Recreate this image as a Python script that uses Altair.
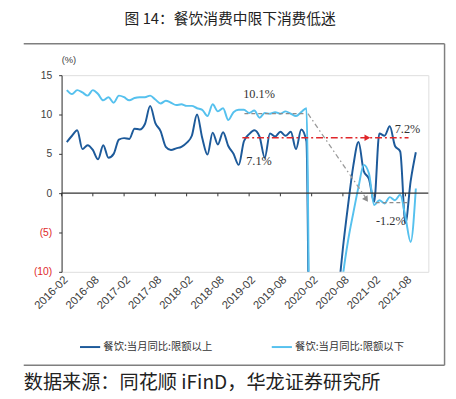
import altair as alt
import pandas as pd

# ---------------- data ----------------
months = [f"{y}-{m:02d}" for y in range(2016, 2022) for m in range(1, 13)]
months = months[months.index("2016-03"): months.index("2021-10") + 1]

above = [6.5, 7.3, 8.0, 5.6, 6.1, 5.5, 4.3, 6.1, 4.5, 5.0,
         6.8, 7.0, 6.9, 8.2, 8.1, 8.8, 11.1, 8.9, 7.9, 5.9,
         5.5, 5.7, 5.9, 6.4, 7.3, 10.0, 7.0, 4.9, 7.7, 6.2,
         7.75, 6.0, 5.0, 3.6, 6.6, 7.5, 8.0, 7.2, 4.5, 7.6,
         7.2, 7.8, 7.3, 7.8, 5.6, 8.1, 6.6, -50.0, -46.0, -35.0,
         -25.0, -19.0, -13.5, -7.0, -1.5, 3.5, 6.5, 2.8, 1.8, -1.1,
         7.6, 7.3, 8.5, 6.0, 5.3, -3.8, 1.5, 5.2]

below = [13.1, 12.6, 13.1, 12.8, 12.4, 13.1, 12.6, 11.8, 12.2, 11.5,
         12.4, 12.2, 11.8, 12.1, 12.2, 12.2, 12.4, 11.9, 11.4, 11.75,
         11.5, 11.2, 11.3, 11.1, 11.1, 10.8, 10.6, 9.8, 11.3, 10.4,
         10.8, 9.3, 10.3, 10.6, 10.6, 10.2, 10.5, 9.6, 10.2, 10.1,
         10.3, 10.1, 10.4, 10.1, 9.8, 10.3, 10.8, -45.0, -48.0, -40.0,
         -30.0, -22.0, -17.0, -10.5, -6.0, -2.5, 0.8, 3.6, 2.5, -1.5,
         -0.9, -1.3, -0.5, -0.9, -0.2, -3.0, -6.2, 0.6]

tick_labels = ["2016-02", "2016-08", "2017-02", "2017-08", "2018-02", "2018-08",
               "2019-02", "2019-08", "2020-02", "2020-08", "2021-02", "2021-08"]
y_ticks = [-10, -5, 0, 5, 10, 15]

series_names = ["餐饮:当月同比:限额以上", "餐饮:当月同比:限额以下"]
colors = ["#1d5a9a", "#56c1ee"]

title_text = "图 14：餐饮消费中限下消费低迷"
source_text = "数据来源：同花顺 iFinD，华龙证券研究所"

# annotation values (month index, value)
ann_labels = ["10.1%", "7.1%", "7.2%", "-1.2%"]
ann_x = [37.9, 37.9, 66.4, 63.2]
ann_y = [12.66, 4.1, 8.2, -3.6]


def month_idx(s):
    y, m = map(int, s.split("-"))
    return (y - 2016) * 12 + (m - 2)


rows = []
for name, vals in zip(series_names, [above, below]):
    for mth, v in zip(months, vals):
        rows.append({"idx": month_idx(mth), "value": v, "series": name})
df = pd.DataFrame(rows)

tick_pos = [i * 6 for i in range(len(tick_labels))]
tick_df = pd.DataFrame({"x": tick_pos, "y": [0.0] * len(tick_pos), "y2": [-0.4] * len(tick_pos)})
zero_df = pd.DataFrame({"y": [0.0]})
ann_df = pd.DataFrame({"x": ann_x, "y": ann_y, "label": ann_labels})

gray_dash_df = pd.DataFrame({"x": [35.1, 60.3], "x2": [46.8, 66.5], "y": [10.1, -1.2], "y2": [10.1, -1.2]})
gray_diag_df = pd.DataFrame({"x": [47.3], "x2": [58.3], "y": [10.1], "y2": [-0.5]})
red_df = pd.DataFrame({"x": [34.7], "x2": [66.6], "y": [7.05], "y2": [7.05]})
red_arrow_df = pd.DataFrame({"x": [58.7], "y": [7.05]})
gray_arrow_df = pd.DataFrame({"x": [58.5], "y": [-0.8]})
one_df = pd.DataFrame({"k": [1]})

# ---------------- scales / axes ----------------
x_scale = alt.Scale(domain=[0, 70.4], nice=False, zero=False)
y_scale = alt.Scale(domain=[-10, 15], nice=False, zero=False)

label_expr = "[" + ",".join(f"'{t}'" for t in tick_labels) + "][round(datum.value/6)]"

x_axis = alt.Axis(values=tick_pos, labelExpr=label_expr,
                  labelAngle=-45, labelAlign="right", labelBaseline="top",
                  domain=False, ticks=False, grid=False, title=None,
                  labelFontSize=11.5, labelFont="Liberation Sans", labelColor="#404040",
                  labelPadding=2, labelOverlap=False, labelFlush=False, labelBound=False)

y_axis = alt.Axis(values=y_ticks,
                  labelExpr="datum.value < 0 ? '(' + abs(datum.value) + ')' : '' + datum.value",
                  labelColor={"condition": {"test": "datum.value < 0", "value": "#e0282a"}, "value": "#404040"},
                  labelFontSize=10.5, labelFont="Liberation Sans", labelPadding=7,
                  tickSize=3, tickColor="#333333", domainColor="#333333",
                  grid=False, title=None, labelFlush=False, labelOverlap=False)


def xq(f):
    return alt.X(f, type="quantitative", scale=x_scale, axis=x_axis, title=None)


def yq(f):
    return alt.Y(f, type="quantitative", scale=y_scale, axis=y_axis, title=None)


lines = alt.Chart(df).mark_line(strokeWidth=2, interpolate="monotone", clip=True).encode(
    x=xq("idx"),
    y=yq("value"),
    color=alt.Color("series:N", scale=alt.Scale(domain=series_names, range=colors),
                    legend=alt.Legend(title=None, orient="none", legendX=17.5, legendY=265,
                                      direction="horizontal", symbolType="stroke",
                                      symbolStrokeWidth=2, symbolSize=420,
                                      labelFont="Noto Sans CJK SC", labelFontSize=10.5,
                                      labelColor="#333333", columnPadding=56, labelOffset=2)),
    order=alt.Order("idx:Q"),
)

zero_line = alt.Chart(zero_df).mark_rule(color="#333333", strokeWidth=1.2).encode(y=yq("y"))
x_ticks = alt.Chart(tick_df).mark_rule(color="#333333", strokeWidth=1).encode(
    x=xq("x"), y=yq("y"), y2="y2")

gray_dash = alt.Chart(gray_dash_df).mark_rule(color="#8c8c8c", strokeDash=[4, 3], strokeWidth=1.3).encode(
    x=xq("x"), x2="x2", y=yq("y"), y2="y2")
gray_diag = alt.Chart(gray_diag_df).mark_rule(color="#9a9a9a", strokeDash=[5, 3, 1.5, 3], strokeWidth=1.3).encode(
    x=xq("x"), x2="x2", y=yq("y"), y2="y2")
red_line = alt.Chart(red_df).mark_rule(color="#e0262a", strokeDash=[7, 3, 2, 3], strokeWidth=1.6).encode(
    x=xq("x"), x2="x2", y=yq("y"), y2="y2")
red_arrow = alt.Chart(red_arrow_df).mark_point(shape="triangle-right", filled=True, size=45,
                                                color="#e0262a", opacity=1).encode(x=xq("x"), y=yq("y"))
gray_arrow = alt.Chart(gray_arrow_df).mark_point(shape="triangle-up", angle=146, filled=True, size=45,
                                                  color="#8c8c8c", opacity=1).encode(x=xq("x"), y=yq("y"))

ann_text = alt.Chart(ann_df).mark_text(font="Liberation Serif", fontSize=12.5, color="#333333").encode(
    x=xq("x"), y=yq("y"), text="label:N")

pct_text = alt.Chart(pd.DataFrame({"t": ["(%)"]})).mark_text(
    font="Liberation Sans", fontSize=9.5, color="#404040").encode(
    x=alt.value(7.5), y=alt.value(-15), text="t:N")

title_mark = alt.Chart(pd.DataFrame({"t": [title_text]})).mark_text(
    font="Noto Sans CJK SC", fontSize=15, color="#222222", align="center", baseline="middle").encode(
    x=alt.value(171.5), y=alt.value(-57), text="t:N")

source_mark = alt.Chart(pd.DataFrame({"t": [source_text]})).mark_text(
    font="Noto Sans CJK SC", fontSize=19.5, color="#222222", align="left", baseline="middle").encode(
    x=alt.value(-38.5), y=alt.value(313), text="t:N")

frame_top = alt.Chart(one_df).mark_rule(color="#7f7f7f", strokeWidth=1.5).encode(
    x=alt.value(-38.5), x2=alt.value(389.5), y=alt.value(-32))
frame_bottom = alt.Chart(one_df).mark_rule(color="#7f7f7f", strokeWidth=1.5).encode(
    x=alt.value(-38.5), x2=alt.value(389.5), y=alt.value(295))
frame_right = alt.Chart(one_df).mark_rule(color="#7f7f7f", strokeWidth=1.5).encode(
    x=alt.value(389.5), y=alt.value(-32), y2=alt.value(295))

chart = alt.layer(
    lines, zero_line, x_ticks, gray_dash, gray_diag, red_line, red_arrow, gray_arrow,
    ann_text, pct_text, title_mark, source_mark, frame_top, frame_bottom, frame_right
).properties(
    width=373, height=200,
    autosize=alt.AutoSizeParams(type="none"),
    padding={"left": 54.5, "top": 65, "right": 20, "bottom": 126},
).configure_view(stroke=None).configure_axis(labelOverlap=False, labelFlush=False).configure(background="white")

chart.save("out.html", embed_options={"renderer": "svg", "actions": False})
